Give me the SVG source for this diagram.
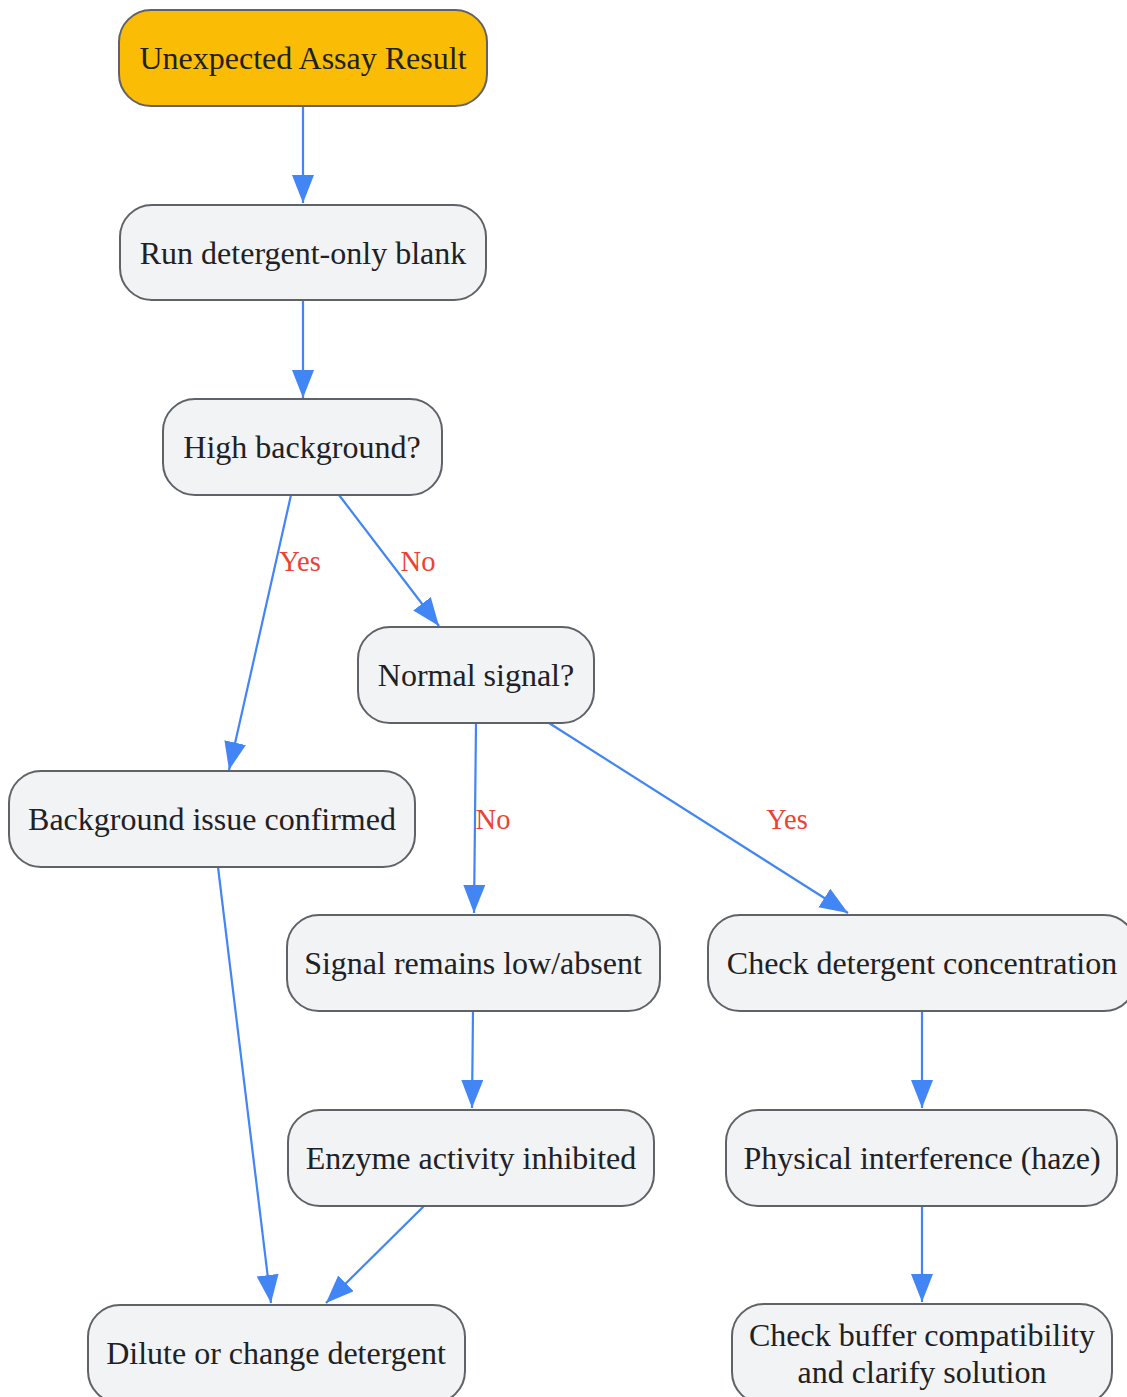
<svg xmlns="http://www.w3.org/2000/svg" width="1127" height="1397" viewBox="0 0 1127 1397">
<style>
.n rect{fill:#f1f3f5;stroke:#5f6368;stroke-width:2}
.n.start rect{fill:#fbbc05}
.n text{font-family:"Liberation Serif","Times New Roman",serif;font-size:32px;fill:#202124;text-anchor:middle}
.e path{fill:none;stroke:#4285f4;stroke-width:2.2;marker-end:url(#ah)}
.lbl{font-family:"Liberation Serif","Times New Roman",serif;font-size:28.5px;fill:#ea4335;text-anchor:middle}
</style>
<defs>
<marker id="ah" markerUnits="userSpaceOnUse" markerWidth="30" markerHeight="24" refX="28" refY="11" orient="auto">
<path d="M0,0 L28,11 L0,22 Z" fill="#4285f4"/>
</marker>
</defs>
<rect width="1127" height="1397" fill="#ffffff"/>
<g id="edges" class="e">
<path d="M303,106 L303,203"/>
<path d="M303,300 L303,398"/>
<path d="M291,495 L229,770"/>
<path d="M339,495 L439,626"/>
<path d="M476,723 L474,913"/>
<path d="M549,723 L848,913"/>
<path d="M218,867 L271,1303"/>
<path d="M473,1011 L472,1108"/>
<path d="M922,1011 L922,1108"/>
<path d="M424,1206 L326,1303"/>
<path d="M922,1206 L922,1302"/>
<text class="lbl" x="300" y="571">Yes</text>
<text class="lbl" x="418" y="571">No</text>
<text class="lbl" x="493" y="829">No</text>
<text class="lbl" x="787" y="829">Yes</text>
</g>
<g id="n1" class="n start"><rect x="119" y="10" width="368" height="96" rx="32"/><text x="303" y="69">Unexpected Assay Result</text></g>
<g id="n2" class="n"><rect x="120" y="205" width="366" height="95" rx="32"/><text x="303" y="264">Run detergent-only blank</text></g>
<g id="n3" class="n"><rect x="163" y="399" width="279" height="96" rx="32"/><text x="302" y="458">High background?</text></g>
<g id="n4" class="n"><rect x="358" y="627" width="236" height="96" rx="32"/><text x="476" y="686">Normal signal?</text></g>
<g id="n5" class="n"><rect x="9" y="771" width="406" height="96" rx="32"/><text x="212" y="830">Background issue confirmed</text></g>
<g id="n6" class="n"><rect x="287" y="915" width="373" height="96" rx="32"/><text x="473" y="974">Signal remains low/absent</text></g>
<g id="n7" class="n"><rect x="708" y="915" width="428" height="96" rx="32"/><text x="922" y="974">Check detergent concentration</text></g>
<g id="n8" class="n"><rect x="288" y="1110" width="366" height="96" rx="32"/><text x="471" y="1169">Enzyme activity inhibited</text></g>
<g id="n9" class="n"><rect x="726" y="1110" width="391" height="96" rx="32"/><text x="922" y="1169">Physical interference (haze)</text></g>
<g id="n10" class="n"><rect x="88" y="1305" width="377" height="98" rx="32"/><text x="276" y="1364">Dilute or change detergent</text></g>
<g id="n11" class="n"><rect x="732" y="1304" width="380" height="100" rx="32"/><text x="922" y="1346">Check buffer compatibility</text><text x="922" y="1383">and clarify solution</text></g>
</svg>
